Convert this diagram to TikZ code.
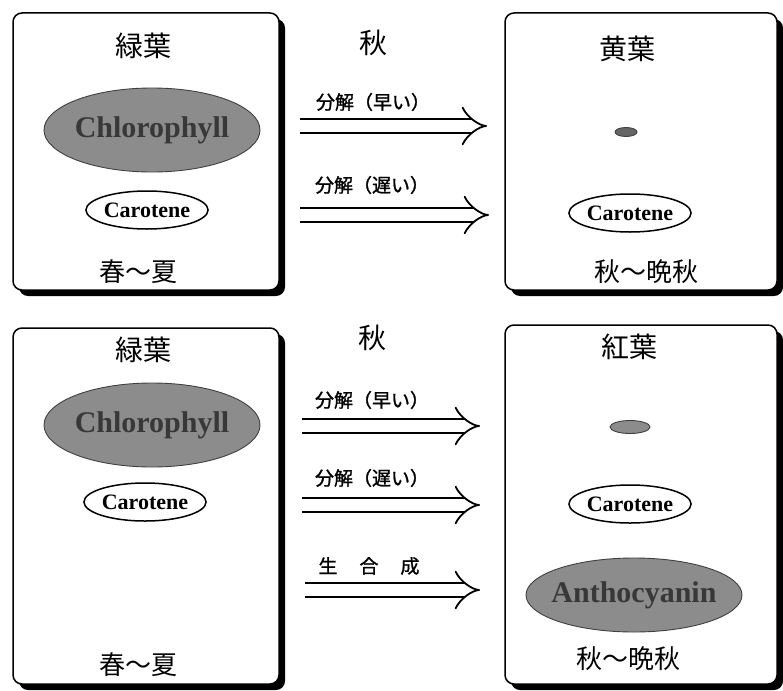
\documentclass[tikz,border=0pt]{standalone}
\usepackage{fontspec}
\setmainfont{Liberation Serif}
\newfontfamily\jpfont{Noto Sans CJK JP}
\newfontfamily\jplblfont[FakeBold=1.2]{Noto Sans CJK JP}
\usetikzlibrary{shapes.geometric, arrows.meta, positioning, shadows}
\tikzset{
	leafbox/.style={draw, line width=1.5pt, fill=white, rounded corners=9pt,
		drop shadow={shadow xshift=6pt, shadow yshift=-6pt, fill=black, opacity=1}},
	pig/.style={ellipse, draw=black!75, line width=0.9pt, fill=black!45, inner sep=0pt},
	pigtext/.style={font=\fontsize{30}{32}\selectfont\bfseries, text=black!78},
	caro/.style={ellipse, draw, line width=1.5pt, fill=white, inner sep=0pt,
		minimum width=114pt, minimum height=38pt, font=\fontsize{22}{24}\selectfont\bfseries},
	dblarrow/.style={double, double distance=12pt, line width=1.8pt, -{Implies}}
}

\begin{document}
\begin{tikzpicture}[
	x=1pt, y=-1pt,
	% --- styles for the texts ---
	title/.style={font=\jpfont\fontsize{28}{30}\selectfont},
	season/.style={font=\jpfont\fontsize{26}{28}\selectfont},
	lbl/.style={font=\jplblfont\fontsize{19}{21}\selectfont}
	]
	\useasboundingbox (0,0) rectangle (783,690);

	% --- Boxes ---
	\node[leafbox, minimum width=266pt, minimum height=277pt] (greenA) at (146,151.5) {};
	\node[leafbox, minimum width=272pt, minimum height=277pt] (yellow) at (641,151.5) {};
	\node[leafbox, minimum width=266pt, minimum height=356pt] (greenB) at (146,506) {};
	\node[leafbox, minimum width=272pt, minimum height=359pt] (red) at (641,504.5) {};

	% --- Top row: green leaf ---
	\node[title] (greenA_t) at (143,46) {緑葉};
	\node[pig, minimum width=216pt, minimum height=84pt,
		label={[pigtext]center:Chlorophyll}] (chlA) at (152,130) {};
	\node[caro] (carA) at (147,210) {Carotene};
	\node[season] (greenA_s) at (138,272) {春～夏};

	% --- Top row: yellow leaf ---
	\node[title] (yellow_t) at (627,49) {黄葉};
	\node[pig, fill=black!60, minimum width=22pt, minimum height=9pt] (chlY) at (626,132) {};
	\node[caro] (carY) at (630,213) {Carotene};
	\node[season] (yellow_s) at (646,272) {秋～晩秋};

	% --- Top row: arrows ---
	\node[title] (autA) at (373,43) {秋};
	\node[lbl] (fastA_l) at (373,102) {分解（早い）};
	\node[lbl] (slowA_l) at (372,185) {分解（遅い）};
	\coordinate (fastA_s) at (300,126);
	\coordinate (fastA_e) at (487,126);
	\coordinate (slowA_s) at (300,215);
	\coordinate (slowA_e) at (489,215);
	\draw[dblarrow] (fastA_s) -- (fastA_e);
	\draw[dblarrow] (slowA_s) -- (slowA_e);

	% --- Bottom row: green leaf ---
	\node[title] (greenB_t) at (143,350) {緑葉};
	\node[pig, minimum width=216pt, minimum height=84pt,
		label={[pigtext]center:Chlorophyll}] (chlB) at (152,425) {};
	\node[caro] (carB) at (145,502) {Carotene};
	\node[season] (greenB_s) at (138,665) {春～夏};

	% --- Bottom row: red leaf ---
	\node[title] (red_t) at (629,347) {紅葉};
	\node[pig, minimum width=40pt, minimum height=13pt] (chlR) at (630,427) {};
	\node[caro] (carR) at (630,504) {Carotene};
	\node[pig, minimum width=216pt, minimum height=74pt,
		label={[pigtext]center:Anthocyanin}] (anth) at (634,595) {};
	\node[season] (red_s) at (628,659) {秋～晩秋};

	% --- Bottom row: arrows ---
	\node[title] (autB) at (372,338) {秋};
	\node[lbl] (fastB_l) at (372,400) {分解（早い）};
	\node[lbl] (slowB_l) at (372,478) {分解（遅い）};
	\node[lbl] (synB_l) at (369,566) {生\hspace{22pt}合\hspace{22pt}成};
	\coordinate (fastB_s) at (302,426);
	\coordinate (fastB_e) at (480,426);
	\coordinate (slowB_s) at (302,505);
	\coordinate (slowB_e) at (480,505);
	\coordinate (synB_s) at (305,590);
	\coordinate (synB_e) at (480,590);
	\draw[dblarrow] (fastB_s) -- (fastB_e);
	\draw[dblarrow] (slowB_s) -- (slowB_e);
	\draw[dblarrow] (synB_s) -- (synB_e);

\end{tikzpicture}
\end{document}
